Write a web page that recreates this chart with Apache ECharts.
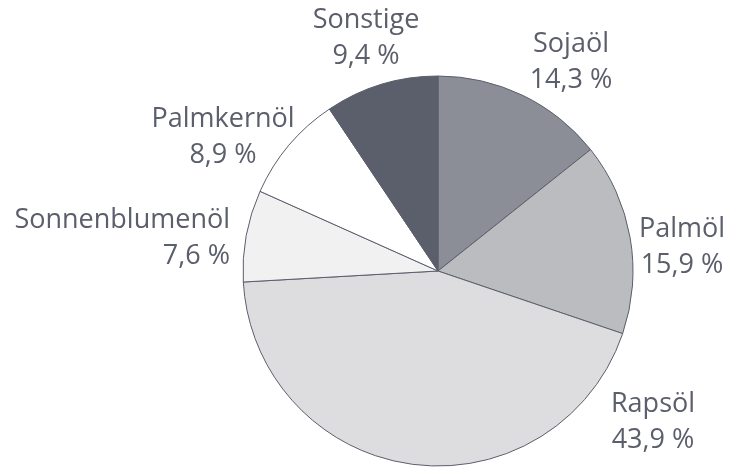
<!DOCTYPE html>
<html lang="de">
<head>
    <meta charset="UTF-8">
    <title>Pflanzenöle</title>
    <script src="https://cdn.jsdelivr.net/npm/echarts/dist/echarts.min.js"></script>
    <style>body{margin:0;background:#fff;}</style>
</head>
<body>
<div id="main" style="width: 733px;height:468px;"></div>
<script type="text/javascript">
    // Daten
    var names = ['Sojaöl', 'Palmöl', 'Rapsöl', 'Sonnenblumenöl', 'Palmkernöl', 'Sonstige'];
    var shares = [14.3, 15.9, 43.9, 7.6, 8.9, 9.4];
    var colors = ['#8b8e97', '#bbbcc0', '#dddde0', '#f1f1f1', '#ffffff', '#5b5e6b'];

    // Label-Positionen (Mitte des Textblocks)
    var labelPos = [
        {x: 571, y: 62, align: 'center'},
        {x: 682, y: 247, align: 'center'},
        {x: 653, y: 422, align: 'center'},
        {x: 230, y: 238, align: 'right'},
        {x: 223, y: 137, align: 'center'},
        {x: 366, y: 38, align: 'center'}
    ];

    var chart = echarts.init(document.getElementById('main'));
    var data = names.map(function (n, i) {
        return {name: n, value: shares[i], itemStyle: {color: colors[i]}};
    });

    chart.setOption({
        animation: false,
        series: [{
            type: 'pie',
            center: [438, 271],
            radius: 195,
            startAngle: 90,
            data: data,
            itemStyle: {borderColor: '#5b5e6b', borderWidth: 1},
            label: {
                show: true,
                position: 'outside',
                overflow: 'none',
                color: '#5b5e6b',
                fontFamily: 'Open Sans',
                fontSize: 27,
                lineHeight: 36,
                formatter: function (p) {
                    return p.name + '\n' + String(p.value).replace('.', ',') + ' %';
                }
            },
            labelLine: {show: false},
            labelLayout: function (p) {
                var l = labelPos[p.dataIndex];
                return {x: l.x, y: l.y, align: l.align, verticalAlign: 'middle', width: 300};
            },
            emphasis: {disabled: true}
        }]
    });
</script>
</body>
</html>
